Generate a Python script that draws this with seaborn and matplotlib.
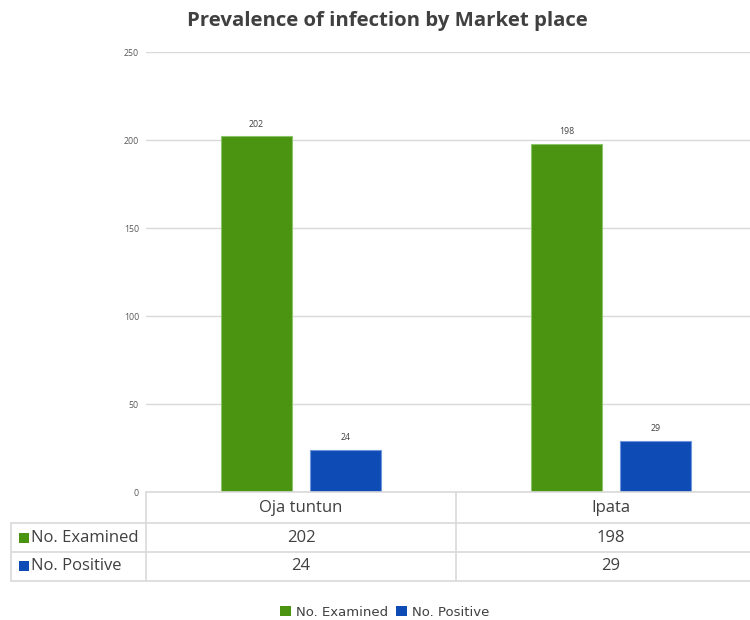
import matplotlib
matplotlib.use("Agg")
import matplotlib.pyplot as plt
import seaborn as sns
import pandas as pd
from matplotlib.lines import Line2D
from matplotlib.patches import Rectangle

# Data
markets = ["Oja tuntun", "Ipata"]
series = ["No. Examined", "No. Positive"]
examined = [202, 198]
positive = [24, 29]
y_ticks = [0, 50, 100, 150, 200, 250]

fill_colors = {"No. Examined": "#4a9411", "No. Positive": "#0e4bb4"}
edge_colors = {"No. Examined": "#8cc46a", "No. Positive": "#6f95dc"}

df = pd.DataFrame({
    "market": markets * 2,
    "series": [series[0]] * len(markets) + [series[1]] * len(markets),
    "count": examined + positive,
})

sns.set_theme(style="white")
plt.rcParams["font.family"] = ["Open Sans", "DejaVu Sans"]

W, H = 750, 620
TEXT = "#404040"
LINE = "#d9d9d9"


def fx(px):
    return px / W


def fy(py):
    return 1 - py / H


fig = plt.figure(figsize=(W / 100, H / 100), dpi=100)
ax = fig.add_axes([fx(146), fy(492), 620 / W, 440 / H])

sns.barplot(data=df, x="market", y="count", hue="series", order=markets,
            hue_order=series, palette=fill_colors, saturation=1,
            width=0.574, gap=0.21, ax=ax, legend=False, linewidth=0.8)

for container, name in zip(ax.containers, series):
    for bar in container:
        bar.set_edgecolor(edge_colors[name])
    ax.bar_label(container, fontsize=6.3, padding=5.5, color=TEXT)

ax.set_xlim(-0.5, 1.5)
ax.set_ylim(0, 250)
ax.set_yticks(y_ticks)
ax.set_xticks([])
ax.set_xlabel("")
ax.set_ylabel("")
ax.tick_params(axis="y", length=0, pad=5, labelsize=6.3, labelcolor="#595959")
ax.yaxis.grid(True, color=LINE, linewidth=1)
ax.set_axisbelow(True)
for s in ax.spines.values():
    s.set_visible(False)

# Data table below the plot
def hline(y, x0, x1):
    fig.add_artist(Line2D([fx(x0), fx(x1)], [fy(y), fy(y)], color=LINE, lw=1.2))


def vline(x, y0, y1):
    fig.add_artist(Line2D([fx(x), fx(x)], [fy(y0), fy(y1)], color=LINE, lw=1.2))


hline(492, 146, 766)
for y in (523.3, 551.7, 580.7):
    hline(y, 11, 766)
vline(146, 492, 581)
vline(11, 523, 581)
vline(456, 492, 581)

cat_centers = [301, 611]
for cx, m, e, p in zip(cat_centers, markets, examined, positive):
    fig.text(fx(cx), fy(507.5), m, ha="center", va="center", fontsize=12, color=TEXT)
    fig.text(fx(cx), fy(537.5), str(e), ha="center", va="center", fontsize=12, color=TEXT)
    fig.text(fx(cx), fy(566), str(p), ha="center", va="center", fontsize=12, color=TEXT)

for yc, name in zip((537.5, 566), series):
    fig.add_artist(Rectangle((fx(19), fy(yc + 5)), 10 / W, 10 / H,
                             facecolor=fill_colors[name], edgecolor="none",
                             transform=fig.transFigure))
    fig.text(fx(31), fy(yc), name, ha="left", va="center", fontsize=12, color=TEXT)

# Title
fig.text(fx(387), fy(21), "Prevalence of infection by Market place",
         ha="center", va="center", fontsize=14.7, fontweight="bold", color=TEXT)

# Legend
handles = [Rectangle((0, 0), 1, 1, facecolor=fill_colors[s], edgecolor="none") for s in series]
fig.legend(handles, series, loc="center", bbox_to_anchor=(fx(385), fy(612)), ncol=2,
           frameon=False, handlelength=0.8, handleheight=0.8,
           handletextpad=0.4, columnspacing=0.6, labelcolor=TEXT,
           prop={"family": "DejaVu Sans", "size": 9.5})

fig.savefig("out.png", dpi=100, facecolor="white")
